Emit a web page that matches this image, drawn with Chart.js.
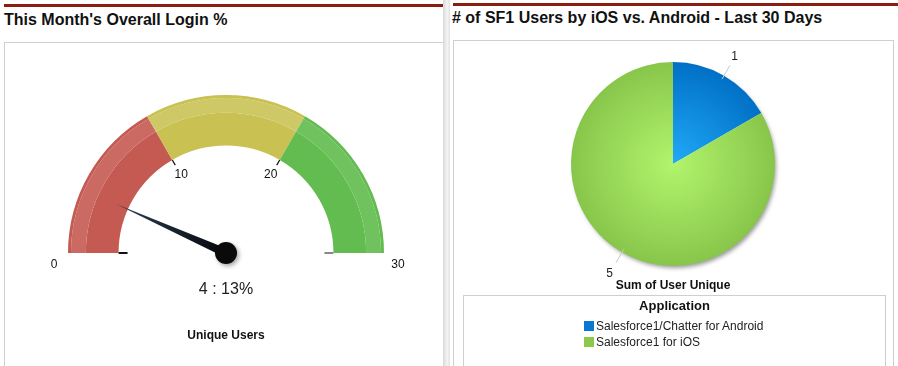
<!DOCTYPE html>
<html>
<head>
<meta charset="utf-8">
<script src="https://cdn.jsdelivr.net/npm/chart.js@4.4.0/dist/chart.umd.min.js"></script>
<style>
  html, body { margin: 0; padding: 0; background: #fff; }
  body { width: 898px; height: 366px; position: relative; overflow: hidden; font-family: Arial, "Liberation Sans", sans-serif; color: #111; }
  .bar { position: absolute; height: 3px; background: #8c1c12; }
  .title { position: absolute; font-weight: bold; font-size: 16px; white-space: nowrap; }
  .box { position: absolute; border: 1px solid #cfcfcf; background: #fff; }
  .shadow { position: absolute; left: 443px; top: 0; width: 7px; height: 366px;
            background: linear-gradient(to right, #d8d8d8, #f4f4f4 60%, #e2e2e2); }
  canvas { position: absolute; }
  .txt { position: absolute; text-align: center; white-space: nowrap; }
  #legend { position: absolute; left: 463px; top: 295px; width: 421px; height: 80px; border: 1px solid #cfcfcf; }
  #legend .head { text-align: center; font-weight: bold; font-size: 13px; margin-top: 2px; }
  #legend ul { list-style: none; margin: 5px 0 0 120px; padding: 0; }
  #legend li { font-size: 12px; height: 16px; line-height: 16px; color: #222; }
  #legend li span { display: inline-block; width: 10px; height: 10px; margin-right: 2px; vertical-align: -1px; }
</style>
</head>
<body>
<div class="bar" style="left:4px; top:4px; width:439px;"></div>
<div class="title" style="left:4px; top:11px;">This Month's Overall Login %</div>
<div class="box" style="left:4px; top:42px; width:438px; height:340px;"></div>
<div class="shadow"></div>

<div class="bar" style="left:453px; top:3px; width:445px;"></div>
<div class="title" style="left:452px; top:9px;"># of SF1 Users by iOS vs. Android - Last 30 Days</div>
<div class="box" style="left:453px; top:40px; width:439px; height:340px;"></div>

<canvas id="gauge" width="437" height="323" style="left:5px; top:43px;"></canvas>
<div id="gaugeReadout" class="txt" style="left:126px; top:280px; width:200px; font-size:16px; color:#222;"></div>
<div id="gaugeCaption" class="txt" style="left:126px; top:328px; width:200px; font-size:12px; font-weight:bold;"></div>

<canvas id="pie" width="438" height="325" style="left:454px; top:41px;"></canvas>
<div class="txt" style="left:573px; top:278px; width:200px; font-size:12px; font-weight:bold;">Sum of User Unique</div>
<div id="legend"><div class="head">Application</div><ul id="legendList"></ul></div>

<script>
// ---- gauge data ----
const gaugeBands = [10, 10, 10];          // red / yellow / green ranges
const gaugeTicks = [0, 10, 20, 30];
const gaugeMin = 0;
const gaugeMax = 30;
const gaugeValue = 4;
const gaugeLabel = 'Unique Users';

// ---- pie data ----
const appLabels = ['Salesforce1/Chatter for Android', 'Salesforce1 for iOS'];
const appUsers = [1, 5];

// ---- styles ----
const bandBase = ['#c55a53', '#c9c152', '#63bc4f'];
const bandLight = ['#cb6963', '#cfc866', '#6fc25d'];
const pieInner = ['#22aaf8', '#b2f46c'];
const pieOuter = ['#0070c6', '#88c64b'];
const pieSwatch = ['#0a78d0', '#8cc84c'];

/**
 * Needle, ticks and tick labels for the half-doughnut gauge
 */
const gaugeNeedle = {
    id: 'gaugeNeedle',
    afterDatasetsDraw(chart) {
        const n = chart.data.datasets.length;
        const outerArcs = chart.getDatasetMeta(0).data;
        const innerArcs = chart.getDatasetMeta(n - 1).data;
        if (!innerArcs.length) return;
        const first = innerArcs[0];
        const last = innerArcs[innerArcs.length - 1];
        const cx = first.x, cy = first.y;
        const rIn = first.innerRadius;
        const rOut = outerArcs[0].outerRadius;
        const a0 = first.startAngle, a1 = last.endAngle;
        const angleOf = v => a0 + (v - gaugeMin) / (gaugeMax - gaugeMin) * (a1 - a0);
        const ctx = chart.ctx;

        ctx.save();
        ctx.font = '12px Arial, "Liberation Sans", sans-serif';
        ctx.fillStyle = '#111';
        ctx.textAlign = 'center';
        ctx.textBaseline = 'middle';
        gaugeTicks.forEach((t, i) => {
            const a = angleOf(t);
            const c = Math.cos(a), s = Math.sin(a);
            const ends = i === 0 || i === gaugeTicks.length - 1;
            ctx.strokeStyle = i === gaugeTicks.length - 1 ? '#888' : '#111';
            ctx.lineWidth = ends ? 2 : 1.2;
            ctx.beginPath();
            ctx.moveTo(cx + c * rIn, cy + s * rIn);
            ctx.lineTo(cx + c * (rIn - (ends ? 9 : 6)), cy + s * (rIn - (ends ? 9 : 6)));
            ctx.stroke();
            if (ends) {
                ctx.fillText(String(t), cx + c * (rOut + 14), cy + s * (rOut + 14) + 12);
            } else {
                ctx.fillText(String(t), cx + c * (rIn - 18), cy + s * (rIn - 18) - 1);
            }
        });

        // needle
        const a = angleOf(gaugeValue);
        const len = rIn + 13;
        const c = Math.cos(a), s = Math.sin(a);
        const px = -s, py = c;
        const grad = ctx.createLinearGradient(cx, cy, cx + c * len, cy + s * len);
        grad.addColorStop(0, '#05070b');
        grad.addColorStop(1, '#2d4058');
        ctx.fillStyle = grad;
        ctx.beginPath();
        ctx.moveTo(cx + c * len, cy + s * len);
        ctx.lineTo(cx + px * 4.5, cy + py * 4.5);
        ctx.lineTo(cx - px * 4.5, cy - py * 4.5);
        ctx.closePath();
        ctx.fill();

        ctx.shadowColor = 'rgba(0,0,0,0.35)';
        ctx.shadowBlur = 4;
        ctx.shadowOffsetX = 2;
        ctx.shadowOffsetY = 2;
        ctx.fillStyle = '#0a0a0a';
        ctx.beginPath();
        ctx.arc(cx, cy, 11, 0, Math.PI * 2);
        ctx.fill();
        ctx.restore();
    }
};

/**
 * Drop shadow behind the pie, value labels with leader lines outside it
 */
const pieLabels = {
    id: 'pieLabels',
    beforeDatasetsDraw(chart) {
        const arcs = chart.getDatasetMeta(0).data;
        if (!arcs.length) return;
        const ctx = chart.ctx;
        ctx.save();
        ctx.shadowColor = 'rgba(0,0,0,0.4)';
        ctx.shadowBlur = 4;
        ctx.shadowOffsetX = 2;
        ctx.shadowOffsetY = 3;
        ctx.fillStyle = '#fff';
        ctx.beginPath();
        ctx.arc(arcs[0].x, arcs[0].y, arcs[0].outerRadius - 1, 0, Math.PI * 2);
        ctx.fill();
        ctx.restore();
    },
    afterDatasetsDraw(chart) {
        const arcs = chart.getDatasetMeta(0).data;
        const ctx = chart.ctx;
        ctx.save();
        ctx.font = '12px Arial, "Liberation Sans", sans-serif';
        ctx.fillStyle = '#222';
        ctx.textAlign = 'center';
        ctx.textBaseline = 'middle';
        arcs.forEach((arc, i) => {
            const mid = (arc.startAngle + arc.endAngle) / 2;
            const c = Math.cos(mid), s = Math.sin(mid);
            const r = arc.outerRadius;
            ctx.strokeStyle = '#c8c8c8';
            ctx.lineWidth = 1;
            ctx.beginPath();
            ctx.moveTo(arc.x + c * (r - 4), arc.y + s * (r - 4));
            ctx.lineTo(arc.x + c * (r + 12), arc.y + s * (r + 12));
            ctx.stroke();
            ctx.fillText(String(chart.data.datasets[0].data[i]), arc.x + c * (r + 23) - 1, arc.y + s * (r + 23) + 1);
        });
        ctx.restore();
    }
};

function initGauge() {
    const ring = (colors, weight) => ({
        data: gaugeBands,
        backgroundColor: colors,
        borderWidth: 0,
        weight: weight
    });
    new Chart(document.getElementById('gauge'), {
        type: 'doughnut',
        data: {
            labels: ['Low', 'Mid', 'High'],
            datasets: [ring(bandBase, 3), ring(bandLight, 15), ring(bandBase, 33)]
        },
        options: {
            responsive: false,
            animation: false,
            rotation: -90,
            circumference: 180,
            cutout: '68%',
            layout: { padding: { left: 63, right: 58, top: 52, bottom: 113 } },
            plugins: { legend: { display: false }, tooltip: { enabled: false } }
        },
        plugins: [gaugeNeedle]
    });

    const pct = Math.round(gaugeValue / gaugeMax * 100);
    document.getElementById('gaugeReadout').innerText = `${gaugeValue} : ${pct}%`;
    document.getElementById('gaugeCaption').innerText = gaugeLabel;
}

function initPie() {
    new Chart(document.getElementById('pie'), {
        type: 'pie',
        data: {
            labels: appLabels,
            datasets: [{
                data: appUsers,
                borderWidth: 0,
                backgroundColor: (context) => {
                    const i = context.dataIndex;
                    const area = context.chart.chartArea;
                    if (!area) return pieSwatch[i];
                    const cx = (area.left + area.right) / 2;
                    const cy = (area.top + area.bottom) / 2;
                    const r = Math.min(area.width, area.height) / 2;
                    const g = context.chart.ctx.createRadialGradient(cx, cy, 0, cx, cy, r);
                    g.addColorStop(0, pieInner[i]);
                    g.addColorStop(1, pieOuter[i]);
                    return g;
                }
            }]
        },
        options: {
            responsive: false,
            animation: false,
            layout: { padding: { left: 117, right: 117, top: 21, bottom: 100 } },
            plugins: { legend: { display: false }, tooltip: { enabled: false } }
        },
        plugins: [pieLabels]
    });

    const list = document.getElementById('legendList');
    list.innerHTML = appLabels.map((label, i) =>
        `<li><span style="background:${pieSwatch[i]}"></span>${label}</li>`
    ).join('');
}

window.addEventListener('DOMContentLoaded', () => {
    initGauge();
    initPie();
});
</script>
</body>
</html>
